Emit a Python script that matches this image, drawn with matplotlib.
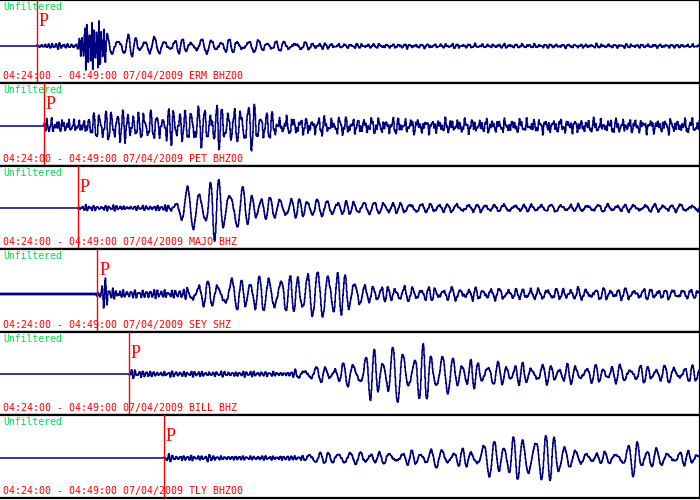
import numpy as np
import matplotlib.pyplot as plt

# record window 04:24:00 - 04:49:00, time in seconds after 04:24:00
t_end = 1500
window_label = '04:24:00 - 04:49:00 07/04/2009'
stations = ['ERM BHZ00', 'PET BHZ00', 'MAJO BHZ', 'SEY SHZ', 'BILL BHZ', 'TLY BHZ00']
p_arrival = [79, 94, 167, 208, 276, 351]

# amplitude envelope (time s, half amplitude)
env_t = [
    [79, 86, 167, 176, 189, 204, 219, 231, 257, 300, 364, 471, 557, 643, 729, 1500],
    [94, 99, 182, 204, 236, 279, 343, 396, 450, 514, 536, 561, 600, 750, 964, 1500],
    [167, 171, 354, 369, 386, 407, 429, 454, 482, 514, 536, 568, 643, 707, 814, 921, 1071, 1500],
    [208, 214, 225, 236, 279, 396, 418, 439, 471, 514, 557, 600, 643, 686, 718, 750, 782, 857, 964, 1179, 1500],
    [276, 283, 300, 429, 621, 643, 729, 761, 793, 836, 879, 926, 954, 1007, 1071, 1157, 1286, 1500],
    [351, 358, 375, 439, 446, 454, 643, 675, 729, 857, 921, 1007, 1050, 1114, 1157, 1189, 1211, 1243, 1329, 1361, 1382, 1414, 1500],
]
env_a = [
    [0, 3, 3, 14, 30, 30, 22, 11, 12, 9, 7, 7, 6, 4, 2, 1.5],
    [0, 4, 5, 14, 18, 15, 14, 19, 21, 19, 27, 17, 8, 7, 5, 5],
    [0, 3, 2, 5, 13, 21, 27, 32, 30, 26, 18, 13, 12, 9, 7, 5, 4, 4],
    [0, 6, 16, 6, 4, 4, 14, 12, 16, 18, 20, 22, 25, 29, 30, 22, 10, 8, 6, 6, 5],
    [0, 6, 3, 2, 2, 6, 9, 16, 24, 28, 25, 32, 20, 15, 12, 10, 9, 8],
    [0, 5, 2, 2, 6, 1.5, 2, 7, 7, 6, 9, 9, 19, 24, 29, 30, 15, 6, 7, 19, 15, 7, 7],
]
# dominant period (s) along each trace
per_t = [
    [79, 170, 176, 225, 235, 640, 700, 1500],
    [94, 600, 1500],
    [167, 360, 375, 540, 580, 1500],
    [208, 400, 410, 490, 520, 760, 800, 1500],
    [276, 630, 640, 960, 1000, 1500],
    [351, 650, 665, 1500],
]
per_v = [
    [8, 8, 5.3, 5.3, 20, 20, 13, 12],
    [11, 14, 15],
    [8, 8, 24, 22, 20, 20],
    [8, 8, 25, 23, 21, 20, 17, 17],
    [8, 8, 21, 21, 19, 19],
    [8, 8, 22, 22],
]
noise_level = [1.2, 5.0, 1.2, 1.8, 1.2, 1.0]

baseline_px = [46, 43, 42, 45, 42, 43]  # trace zero line, px below panel top
pre_p_lw = [1.1, 1.1, 1.1, 2.0, 1.1, 1.1]
panel_px = 83
navy = '#00007f'
red = '#ff0000'
green = '#00dd44'


def make_trace(k):
    t = np.arange(0, t_end + 1, 1.0)
    env = np.interp(t, env_t[k], env_a[k])
    per = np.interp(t, per_t[k], per_v[k])
    phase = 2 * np.pi * np.cumsum(1.0 / per) + 0.8 * np.sin(2 * np.pi * t / 97 + k)
    wave = 0.8 * np.sin(phase) + 0.3 * np.sin(1.37 * phase + 1.1 + k)
    jag = (0.5 * np.sin(2 * np.pi * t / 5.3 + 0.9 + k)
           + 0.35 * np.sin(2 * np.pi * t / 7.9 + 2.3)
           + 0.3 * np.sin(2 * np.pi * t / 3.7 + 1.7 * k))
    mod = 0.85 + 0.15 * np.sin(2 * np.pi * t / 53 + 2 * k)
    y = env * mod * wave + noise_level[k] * jag
    y[t < p_arrival[k]] = 0
    return t, y


fig = plt.figure(figsize=(7, 5), dpi=100)
for k, st in enumerate(stations):
    bottom = 1 - panel_px * (k + 1) / 500
    ax = fig.add_axes([0, bottom, 1, panel_px / 500])
    t, y = make_trace(k)
    pre = t <= p_arrival[k]
    ax.plot(t[pre], y[pre], color=navy, lw=pre_p_lw[k])
    ax.plot(t[~pre], y[~pre], color=navy, lw=1.1, drawstyle='steps-mid')
    ax.axvline(p_arrival[k], color=red, lw=1.0, zorder=3)
    b = baseline_px[k]
    ax.set_xlim(0, t_end)
    ax.set_ylim(-(panel_px - b), b)
    ax.set_xticks([])
    ax.set_yticks([])
    ax.spines['left'].set_visible(False)
    for s in ['top', 'bottom', 'right']:
        ax.spines[s].set_linewidth(1.6)
        ax.spines[s].set_color('black')

    ax.annotate('Unfiltered', xy=(0, 1), xycoords='axes fraction',
                xytext=(3, -2), textcoords='offset pixels', va='top', ha='left',
                family='DejaVu Sans Mono', fontsize=7, color=green)
    ax.annotate(window_label + ' ' + st, xy=(0, 0), xycoords='axes fraction',
                xytext=(3, 2), textcoords='offset pixels', va='bottom', ha='left',
                family='DejaVu Sans Mono', fontsize=7.2, color=red, zorder=4)
    ax.annotate('P', xy=(p_arrival[k], 1), xycoords=('data', 'axes fraction'),
                xytext=(2, -13), textcoords='offset pixels', va='top', ha='left',
                family='Liberation Serif', fontsize=13, color=red)

fig.savefig('out.png', dpi=100, facecolor='white')
